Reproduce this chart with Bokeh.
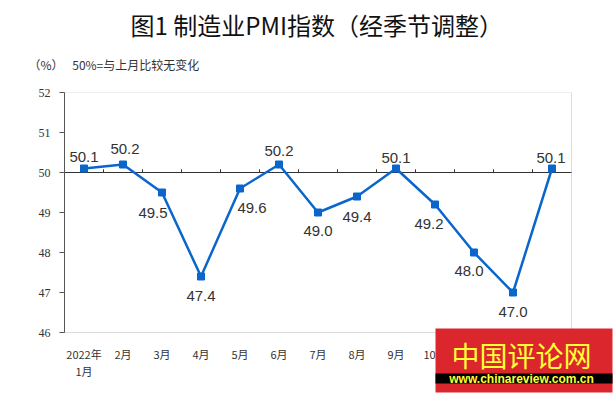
from bokeh.plotting import figure
from bokeh.models import (ColumnDataSource, FixedTicker, Label, BoxAnnotation, Range1d, Title)
from bokeh.core.properties import value
from bokeh.embed import file_html
from bokeh.resources import INLINE

months = ["2022年\n1月", "2月", "3月", "4月", "5月", "6月", "7月", "8月", "9月",
          "10月", "11月", "12月", "2023年\n1月"]
pmi = [50.1, 50.2, 49.5, 47.4, 49.6, 50.2, 49.0, 49.4, 50.1, 49.2, 48.0, 47.0, 50.1]
y_ticks = [46, 47, 48, 49, 50, 51, 52]
y_min, y_max = 46, 52
baseline = 50

# label placement (screen px offsets), style only
label_dx = [0, 2, -9, 0, 12, 0, 0, 0, 0, -6, -5, 0, -1]
label_dy = [-12, -16, 20, 19, 19, -14, 18, 20, -11, 19, 18, 19, -11]

W, H = 616, 397
FL, FT = 64, 92            # frame left / top (px)
PX_X, PX_Y = 39.0, 40.0    # px per category / per unit

n = len(months)
xs = [i + 0.5 for i in range(n)]
src = ColumnDataSource(dict(x=xs, y=pmi, t=[f"{v:.1f}" for v in pmi], dx=label_dx, dy=label_dy))
xsrc = ColumnDataSource(dict(x=xs, y=[y_min] * n, m=months))

x_end = (W - FL) / PX_X
y_start = y_max - (H - FT) / PX_Y

p = figure(width=W, height=H, output_backend="svg", toolbar_location=None,
           x_range=Range1d(0, x_end), y_range=Range1d(y_start, y_max),
           min_border_left=FL, min_border_right=0, min_border_top=FT, min_border_bottom=0)
p.background_fill_color = "white"
p.border_fill_color = "white"
p.outline_line_color = None
p.xgrid.visible = False
p.ygrid.visible = False
p.xaxis.visible = False

# plot area box
p.add_layout(BoxAnnotation(left=0, right=n, bottom=y_min, top=y_max, fill_color=None,
                           line_color="#8c8c8c", line_width=1, level="underlay"))

# y axis
p.yaxis.ticker = FixedTicker(ticks=y_ticks)
p.yaxis.bounds = (y_min, y_max)
p.yaxis.axis_line_color = "#555555"
p.yaxis.major_tick_line_color = "#555555"
p.yaxis.major_tick_out = 5
p.yaxis.major_tick_in = 0
p.yaxis.minor_tick_line_color = None
p.yaxis.major_label_standoff = 9
p.yaxis.major_label_text_font = "Liberation Sans Narrow"
p.yaxis.major_label_text_font_size = "12px"
p.yaxis.major_label_text_color = "#333333"

# category labels under the plot area
p.text("x", "y", text="m", source=xsrc, y_offset=13, text_align="center", text_baseline="top",
       text_font=value("Noto Sans CJK SC"), text_font_size="11px", text_color="#333333",
       text_line_height=1.1)

# 50 baseline with category-boundary ticks
p.segment(x0=[0], y0=[baseline], x1=[n], y1=[baseline], line_color="#333333", line_width=1)
bx = list(range(1, n))
p.segment(x0=bx, y0=[baseline] * len(bx), x1=bx, y1=[baseline + 0.08] * len(bx),
          line_color="#333333", line_width=1)

# series
p.line("x", "y", source=src, line_color="#0A66CC", line_width=2.5)
p.scatter("x", "y", source=src, marker="square", size=7, fill_color="#0A66CC", line_color="#0A66CC")
p.text("x", "y", text="t", source=src, x_offset="dx", y_offset="dy",
       text_align="center", text_baseline="middle", text_font=value("Liberation Sans"),
       text_font_size="15px", text_color="#333333")

# titles (first added sits closest to the plot)
p.add_layout(Title(text=" ", text_font_size="2px", standoff=4), "above")
p.add_layout(Title(text="（%）\u2002 50%=与上月比较无变化", align="left", offset=-36,
                   text_font="Noto Sans CJK SC", text_font_size="12px", text_font_style="normal",
                   text_color="#333333", standoff=24), "above")
p.add_layout(Title(text="图1 制造业PMI指数（经季节调整）", align="left", offset=66,
                   text_font="Noto Sans CJK SC", text_font_size="24px", text_font_style="normal",
                   text_color="#111111", standoff=0), "above")

# watermark
p.add_layout(BoxAnnotation(left=435, right=612, top=328, bottom=392, left_units="canvas", right_units="canvas",
                           top_units="canvas", bottom_units="canvas", fill_color="#DC262E", fill_alpha=1,
                           line_color=None, level="overlay"))
p.add_layout(BoxAnnotation(left=435, right=612, top=373, bottom=383, left_units="canvas", right_units="canvas",
                           top_units="canvas", bottom_units="canvas", fill_color="#000000", fill_alpha=1,
                           line_color=None, level="overlay"))
p.add_layout(Label(x=521, y=354, x_units="canvas", y_units="canvas", text="中国评论网",
                   text_align="center", text_baseline="middle", text_font="Noto Sans CJK SC",
                   text_font_size="28px", text_color="#FFFF33", level="overlay"))
p.add_layout(Label(x=521, y=378, x_units="canvas", y_units="canvas", text="www.chinareview.com.cn",
                   text_align="center", text_baseline="middle", text_font="Liberation Sans",
                   text_font_size="12px", text_font_style="bold", text_color="#FFFF33", level="overlay"))

open("out.html", "w").write(file_html(p, INLINE))
